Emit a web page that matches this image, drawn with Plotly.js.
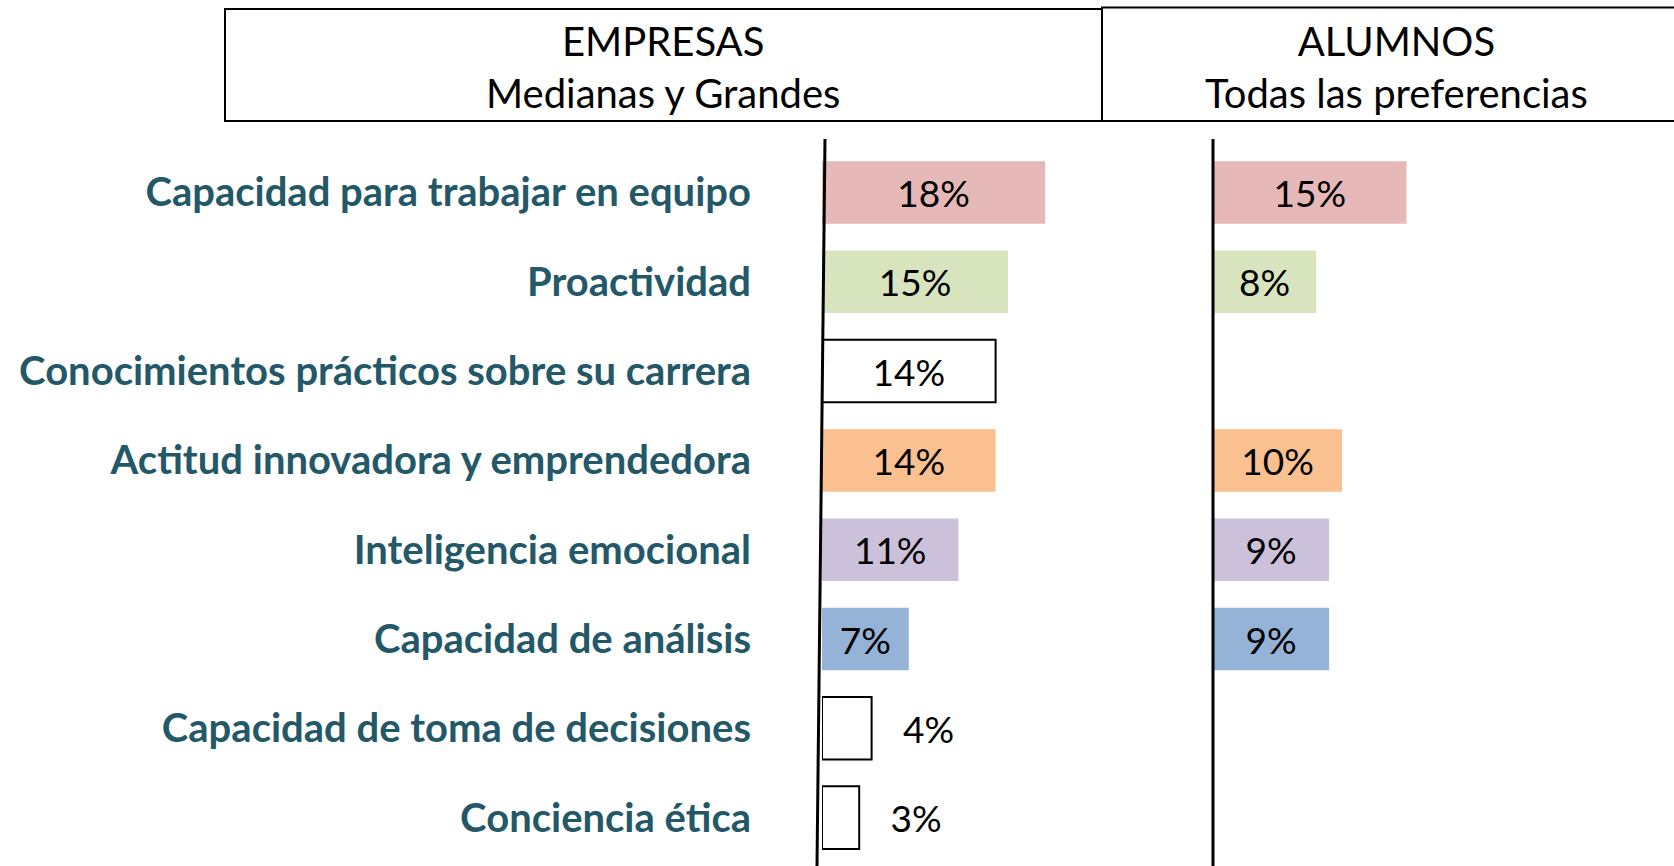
<!DOCTYPE html>
<html>
<head>
<meta charset="utf-8">
<script src="https://cdn.plot.ly/plotly-3.0.1.min.js"></script>
<style>html,body{margin:0;padding:0;background:#fff;}#chart{width:1674px;height:866px;}</style>
</head>
<body>
<div id="chart"></div>
<script>
var categories = [
  'Capacidad para trabajar en equipo',
  'Proactividad',
  'Conocimientos prácticos sobre su carrera',
  'Actitud innovadora y emprendedora',
  'Inteligencia emocional',
  'Capacidad de análisis',
  'Capacidad de toma de decisiones',
  'Conciencia ética'
];
var empresas = [18, 15, 14, 14, 11, 7, 4, 3];
var alumnos = [15, 8, null, 10, 9, 9, null, null];
var panelTitles = ['EMPRESAS<br>Medianas y Grandes', 'ALUMNOS<br>Todas las preferencias'];

var fillColors = ['#E6B9B8', '#D7E4BD', '#FFFFFF', '#FAC090', '#CCC1DA', '#95B3D7', '#FFFFFF', '#FFFFFF'];
var outlined = [false, false, true, false, false, false, true, true];

var W = 1674, H = 866;
var pxPerPctL = 12.4, pxPerPctR = 12.9;
var FONT = 'Lato, "Open Sans", sans-serif';

var leftText = empresas.map(function (v, i) {
  var t = v + '%';
  if (outlined[i] && v < 10) t = '\u00A0\u00A0\u00A0' + t;
  return t;
});
var leftPos = empresas.map(function (v, i) { return (outlined[i] && v < 10) ? 'outside' : 'inside'; });

var traceEmp = {
  type: 'bar', orientation: 'h',
  y: categories, x: empresas,
  xaxis: 'x', yaxis: 'y',
  marker: {
    color: fillColors,
    line: { color: '#000', width: outlined.map(function (o) { return o ? 2 : 0; }) }
  },
  text: leftText, textposition: leftPos, insidetextanchor: 'middle',
  constraintext: 'none', cliponaxis: false,
  textfont: { family: FONT, size: 37, color: '#000' },
  hoverinfo: 'skip', showlegend: false
};
var traceAlu = {
  type: 'bar', orientation: 'h',
  y: categories, x: alumnos,
  xaxis: 'x2', yaxis: 'y2',
  marker: { color: fillColors, line: { width: 0 } },
  text: alumnos.map(function (v) { return v === null ? '' : v + '%'; }),
  textposition: 'inside', insidetextanchor: 'middle',
  constraintext: 'none', cliponaxis: false,
  textfont: { family: FONT, size: 37, color: '#000' },
  hoverinfo: 'skip', showlegend: false
};

var xL0 = 822, xL1 = 1200, xR0 = 1213;
var yDom = [0.0043, 0.8293];
var layout = {
  width: W, height: H,
  margin: { l: 0, r: 0, t: 0, b: 0 },
  paper_bgcolor: '#fff', plot_bgcolor: 'rgba(0,0,0,0)',
  bargap: 0.3,
  font: { family: FONT },
  xaxis: { domain: [xL0 / W, xL1 / W], range: [0, (xL1 - xL0) / pxPerPctL], visible: false, fixedrange: true },
  xaxis2: { domain: [xR0 / W, 1], range: [0, (W - xR0) / pxPerPctR], visible: false, fixedrange: true },
  yaxis: {
    type: 'category', categoryorder: 'array', categoryarray: categories,
    domain: yDom, range: [7.5, -0.5],
    showline: false, showgrid: false, zeroline: false,
    ticks: 'outside', ticklen: 62, tickcolor: 'rgba(0,0,0,0)',
    tickfont: { family: FONT, size: 40, color: '#235868', weight: 'bold' },
    fixedrange: true
  },
  yaxis2: {
    type: 'category', categoryorder: 'array', categoryarray: categories,
    domain: yDom, range: [7.5, -0.5],
    anchor: 'x2', visible: false, fixedrange: true
  },
  shapes: [
    { type: 'rect', xref: 'paper', yref: 'paper', x0: 225 / W, x1: 1102 / W, y0: (H - 121) / H, y1: (H - 9) / H, line: { color: '#000', width: 2 } },
    { type: 'rect', xref: 'paper', yref: 'paper', x0: 1102 / W, x1: 1.01, y0: (H - 121) / H, y1: (H - 7.5) / H, line: { color: '#000', width: 2 } },
    { type: 'line', xref: 'paper', yref: 'paper', x0: 825 / W, y0: (H - 139) / H, x1: 817 / W, y1: 0, line: { color: '#000', width: 3 } },
    { type: 'line', xref: 'paper', yref: 'paper', x0: 1213 / W, y0: (H - 139) / H, x1: 1213 / W, y1: 0, line: { color: '#000', width: 3 } }
  ],
  annotations: [
    { xref: 'paper', yref: 'paper', x: 663 / W, y: (H - 67) / H, text: panelTitles[0], showarrow: false, xanchor: 'center', yanchor: 'middle', font: { family: FONT, size: 40, color: '#000' } },
    { xref: 'paper', yref: 'paper', x: 1396 / W, y: (H - 67) / H, text: panelTitles[1], showarrow: false, xanchor: 'center', yanchor: 'middle', font: { family: FONT, size: 40, color: '#000' } }
  ]
};

Plotly.newPlot('chart', [traceEmp, traceAlu], layout, { displayModeBar: false, staticPlot: true });
</script>
</body>
</html>
